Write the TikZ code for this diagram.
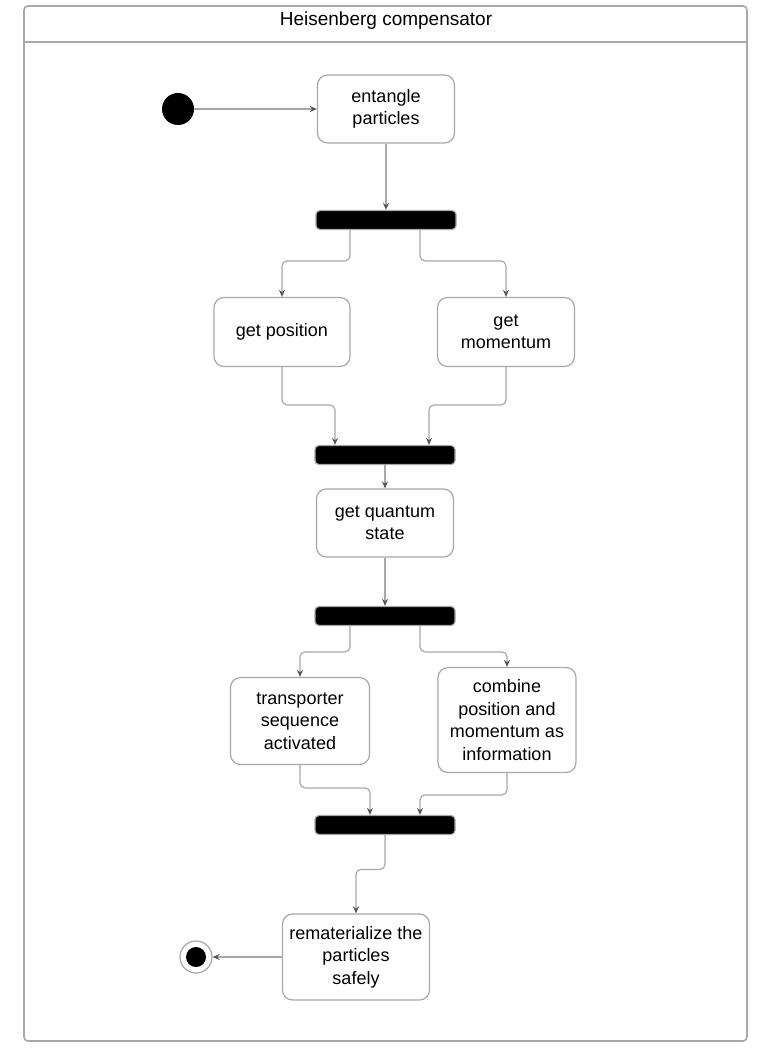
\documentclass[tikz,border=0pt]{standalone}
\usepackage{fontspec}
\setmainfont{Liberation Sans}
\usetikzlibrary{calc,arrows.meta}

\definecolor{linegray}{HTML}{A8A8A8}
\definecolor{tipgray}{HTML}{555555}

\tikzset{
  state/.style={draw=linegray, line width=0.6pt, rounded corners=5pt, align=center,
    inner sep=2pt, font=\fontsize{9}{11.25}\selectfont},
  bar/.style={draw=linegray, fill=black, line width=0.6pt, rounded corners=2pt,
    minimum width=70pt, minimum height=9.5pt, inner sep=0pt},
  flow/.style={draw=linegray, line width=0.6pt, rounded corners=2.5pt,
    -{Stealth[length=3.5pt,width=3pt,color=tipgray]}}
}

\begin{document}
\begin{tikzpicture}[x=0.5pt,y=-0.5pt]

\useasboundingbox (0,0) rectangle (779,1054);

% Frame and title
\draw[linegray, line width=0.8pt, rounded corners=2pt] (24,6) rectangle (747,1041);
\draw[linegray, line width=0.8pt] (24,42) -- (747,42);
\node[font=\fontsize{9.5}{11}\selectfont] (title) at (386,21) {Heisenberg compensator};

% Start and end
\node[circle, fill=black, minimum size=16pt, inner sep=0pt] (init) at (178,109) {};
\node[circle, draw=linegray, line width=0.6pt, minimum size=16pt, inner sep=0pt] (final) at (196,957) {};
\node[circle, fill=black, minimum size=10pt, inner sep=0pt] (finaldot) at (final) {};

% Actions
\node[state, minimum width=68.5pt, minimum height=34pt] (entangle) at (386,109) {entangle\\particles};
\node[state, minimum width=68pt, minimum height=34.5pt] (position) at (282,332) {get position};
\node[state, minimum width=68.5pt, minimum height=34.5pt] (momentum) at (506,332) {get\\momentum};
\node[state, minimum width=68.5pt, minimum height=34pt] (quantum) at (385,523) {get quantum\\state};
\node[state, minimum width=69.5pt, minimum height=43.5pt] (sequence) at (300,721) {transporter\\sequence\\activated};
\node[state, minimum width=69pt, minimum height=52.5pt] (combine) at (507,720) {combine\\position and\\momentum as\\information};
\node[state, minimum width=73.5pt, minimum height=43pt] (remat) at (356,957) {rematerialize the\\particles\\safely};

% Fork and join bars
\node[bar] (fork1) at (386,220) {};
\node[bar] (join1) at (385,455) {};
\node[bar] (fork2) at (385,616) {};
\node[bar] (join2) at (385,825) {};

% Flows
\draw[flow] (init) -- (entangle.west);
\draw[flow] (entangle.south) -- (fork1.north);
\draw[flow] ($(fork1.south)+(-36,0)$) |- ($(position.north)+(0,-36)$) -- (position.north);
\draw[flow] ($(fork1.south)+(34,0)$) |- ($(momentum.north)+(0,-36)$) -- (momentum.north);
\draw[flow] (position.south) |- ($(join1.north)+(-50,-40)$) -- ($(join1.north)+(-50,0)$);
\draw[flow] (momentum.south) |- ($(join1.north)+(44,-40)$) -- ($(join1.north)+(44,0)$);
\draw[flow] (join1.south) -- (quantum.north);
\draw[flow] (quantum.south) -- (fork2.north);
\draw[flow] ($(fork2.south)+(-35,0)$) |- ($(sequence.north)+(0,-25)$) -- (sequence.north);
\draw[flow] ($(fork2.south)+(35,0)$) |- ($(combine.north)+(0,-15)$) -- (combine.north);
\draw[flow] (sequence.south) |- ($(join2.north)+(-15,-27)$) -- ($(join2.north)+(-15,0)$);
\draw[flow] (combine.south) |- ($(join2.north)+(35,-20)$) -- ($(join2.north)+(35,0)$);
\draw[flow] (join2.south) |- ($(remat.north)+(0,-44)$) -- (remat.north);
\draw[flow] (remat.west) -- (final);

\end{tikzpicture}
\end{document}
